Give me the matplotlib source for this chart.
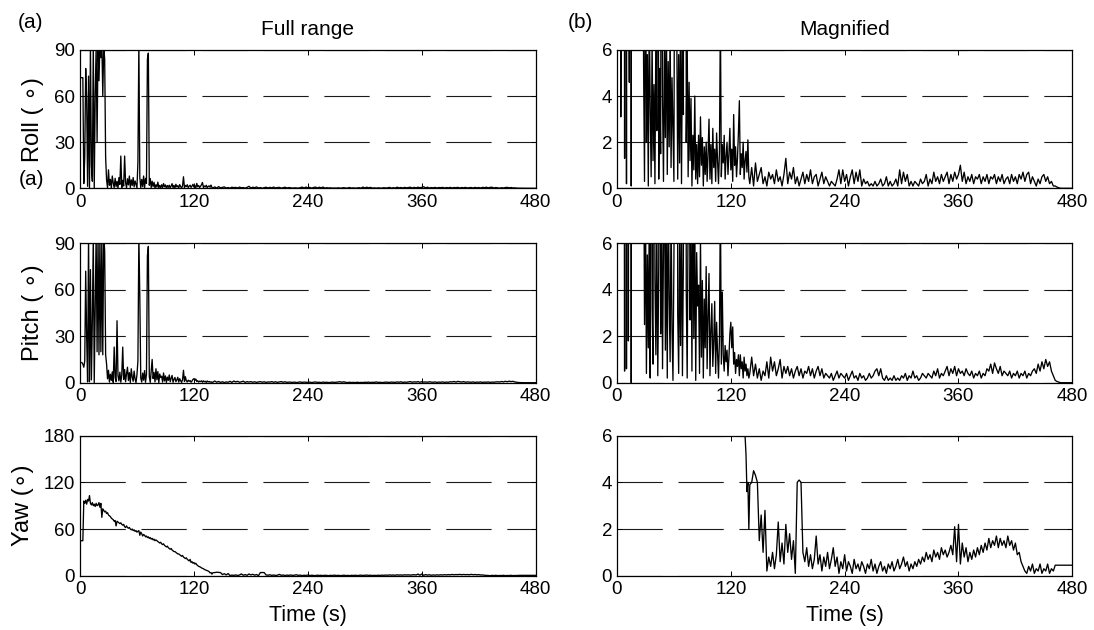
import numpy as np
import matplotlib
matplotlib.use("Agg")
import matplotlib.pyplot as plt

plt.rcParams["font.family"] = ["Liberation Sans", "DejaVu Sans"]
plt.rcParams["lines.scale_dashes"] = False

# Attitude error samples: 1 s steps for 0-139 s, 2 s steps for 140-480 s
roll_early = [72, 72, 72, 72, 3.1, 20, 78, 58, 1.3, 73,
              0.2, 95, 15, 4.6, 95, 0.1, 60, 92, 30, 95,
              70, 95, 85, 95, 60, 92, 84, 20, 5.5, 0.3,
              12, 2, 5.8, 0.1, 8, 3.5, 0.5, 6.5, 1.2, 4.5,
              0.2, 7, 2.5, 21, 0.4, 5.2, 1.5, 21, 3.8, 0.3,
              6.2, 2.2, 8, 0.6, 5.5, 1.8, 7, 0.9, 4.8, 2.6,
              0.3, 17, 95, 7, 0.4, 5.8, 1.1, 8, 0.2, 6.5,
              3.2, 84, 88, 2, 6.4, 0.5, 4.6, 1.2, 3.9, 0.1,
              2.3, 0.8, 4.0, 0.4, 1.9, 0.2, 2.3, 0.5, 3.1, 1.0,
              2.2, 0.1, 1.8, 0.6, 2.0, 0.3, 1.5, 3.0, 0.4, 1.9,
              0.2, 2.6, 0.9, 1.7, 0.3, 2.4, 1.2, 0.2, 1.6, 7.5,
              0.5, 1.9, 1.1, 2.3, 0.4, 1.4, 2.0, 0.6, 1.5, 2.6,
              0.8, 1.7, 0.3, 3.2, 1.0, 1.8, 0.5, 1.3, 2.4, 3.8,
              0.6, 1.5, 0.9, 2.0, 0.4, 1.2, 1.6, 0.7, 2.1, 0.5]
roll_late = [0.2, 0.9, 0.1, 1.1, 0.3, 0.6, 0.9, 0.2, 0.5, 0.1, 0.7, 0.4, 0.6, 0.2, 0.8, 0.3, 0.5, 0.1, 0.6, 1.3,
             0.2, 0.7, 0.4, 0.9, 0.2, 0.5, 0.1, 0.4, 0.7, 0.2, 0.6, 0.3, 0.8, 0.2, 0.5, 0.6, 0.1, 0.4, 0.7, 0.2,
             0.5, 0.3, 0.1, 0.3, 0.2, 0.1, 0.4, 0.8, 0.2, 0.8, 0.3, 0.6, 0.1, 0.5, 0.8, 0.2, 0.7, 0.3, 0.8, 0.1,
             0.4, 0.2, 0.3, 0.1, 0.2, 0.1, 0.3, 0.1, 0.2, 0.4, 0.1, 0.2, 0.5, 0.1, 0.3, 0.1, 0.2, 0.4, 0.1, 0.8,
             0.2, 0.7, 0.3, 0.6, 0.1, 0.3, 0.1, 0.3, 0.2, 0.1, 0.4, 0.2, 0.3, 0.6, 0.1, 0.4, 0.2, 0.7, 0.3, 0.5,
             0.2, 0.6, 0.3, 0.5, 0.7, 0.2, 0.6, 0.3, 0.7, 0.4, 0.6, 1.0, 0.3, 0.7, 0.2, 0.5, 0.3, 0.6, 0.2, 0.5,
             0.4, 0.6, 0.2, 0.5, 0.3, 0.6, 0.2, 0.5, 0.4, 0.6, 0.2, 0.5, 0.3, 0.6, 0.2, 0.4, 0.5, 0.2, 0.6, 0.3,
             0.5, 0.2, 0.6, 0.4, 0.7, 0.3, 0.6, 0.7, 0.2, 0.5, 0.3, 0.1, 0.4, 0.2, 0.5, 0.6, 0.3, 0.5, 0.2, 0.3,
             0.1, 0.1, 0.05, 0.02, 0, 0, 0, 0, 0, 0, 0]

pitch_early = [13, 13, 13, 12, 10, 14, 72, 30, 0.5, 95,
               0.6, 73, 1.8, 40, 95, 0, 50, 95, 20, 95,
               18, 95, 20, 95, 18, 95, 85, 18, 12, 2.5,
               8, 0.4, 5.5, 1.5, 7, 0.2, 23, 3.2, 0.8, 40,
               4.5, 1.2, 6.8, 0.3, 5, 23, 2.1, 8.5, 0.6, 5.8,
               10, 1.4, 6.5, 0.2, 9, 3.7, 0.9, 7.5, 2.3, 0.1,
               5.2, 14, 95, 55, 3, 0.4, 6.2, 1.6, 7.8, 0.3,
               5.4, 82, 88, 4, 0.2, 8, 15, 2.7, 6.6, 0.5,
               9, 1.9, 7.2, 0.1, 5.6, 3.3, 4.2, 0.4, 6.3, 1.1,
               4.4, 0.2, 3.6, 1.5, 5.0, 0.6, 2.9, 4.7, 0.3, 2.2,
               3.4, 0.7, 1.8, 3.5, 0.4, 2.6, 1.3, 0.2, 1.9, 8,
               0.8, 3.9, 1.2, 0.5, 1.6, 0.9, 1.4, 0.3, 1.1, 2.1,
               2.6, 1.5, 2.4, 0.8, 1.3, 0.4, 1.0, 0.7, 1.2, 0.3,
               1.2, 0.6, 0.9, 0.2, 1.1, 0.5, 0.8, 0.3, 0.6, 0.2]
pitch_late = [0.4, 1.1, 0.3, 0.8, 0.2, 0.6, 0.1, 0.5, 0.3, 0.9, 0.2, 1.1, 0.5, 0.9, 0.3, 0.6, 1.0, 0.2, 0.7, 0.4,
              0.7, 0.3, 0.6, 0.2, 0.5, 0.7, 0.3, 0.6, 0.2, 0.5, 0.4, 0.7, 0.3, 0.6, 0.2, 0.5, 0.7, 0.3, 0.6, 0.2,
              0.4, 0.3, 0.2, 0.4, 0.1, 0.3, 0.5, 0.2, 0.4, 0.3, 0.2, 0.4, 0.1, 0.3, 0.5, 0.2, 0.3, 0.1, 0.4, 0.2,
              0.3, 0.1, 0.2, 0.4, 0.2, 0.3, 0.5, 0.6, 0.3, 0.6, 0.2, 0.1, 0.3, 0.1, 0.2, 0.1, 0.3, 0.1, 0.2, 0.1,
              0.3, 0.2, 0.4, 0.1, 0.3, 0.2, 0.5, 0.2, 0.3, 0.1, 0.2, 0.4, 0.3, 0.2, 0.4, 0.3, 0.2, 0.5, 0.3, 0.6,
              0.2, 0.4, 0.3, 0.5, 0.7, 0.3, 0.6, 0.4, 0.7, 0.3, 0.6, 0.4, 0.5, 0.3, 0.6, 0.4, 0.3, 0.5, 0.2, 0.4,
              0.3, 0.5, 0.2, 0.4, 0.3, 0.6, 0.5, 0.8, 0.4, 0.85, 0.6, 0.4, 0.7, 0.3, 0.5, 0.4, 0.3, 0.5, 0.2, 0.4,
              0.3, 0.5, 0.2, 0.4, 0.3, 0.5, 0.2, 0.4, 0.3, 0.5, 0.6, 0.4, 0.8, 0.5, 0.9, 0.6, 1.0, 0.7, 0.9, 0.5,
              0.3, 0.1, 0.05, 0.02, 0, 0, 0, 0, 0, 0, 0]

yaw_early = [45, 45, 45, 45, 96, 93, 97, 92, 98, 96,
             103, 93, 91, 94, 90, 92, 89, 93, 90, 91,
             94, 88, 93, 75, 86, 84, 82, 83, 80, 81,
             78, 77, 76, 74, 73, 72, 70, 71, 64, 70,
             69, 68, 67, 68, 66, 65, 66, 63, 62, 64,
             62, 61, 62, 60, 59, 60, 58, 59, 57, 58,
             56, 57, 58, 52, 56, 54, 51, 53, 52, 50,
             51, 49, 50, 48, 49, 47, 48, 46, 47, 45,
             46, 45, 44, 43, 42, 43, 41, 40, 41, 39,
             38, 37, 38, 36, 35, 34, 35, 33, 32, 31,
             31, 30, 29, 28, 28, 27, 26, 25, 26, 24,
             23, 22, 23, 21, 20, 19, 21, 17, 18, 16,
             17, 15, 16, 14, 13, 12, 11.5, 11, 10, 9.5,
             9, 8, 7.5, 7, 6.5, 6.0, 5.2, 3.6, 4.0, 2.0]
yaw_late = [3.9, 4.0, 4.5, 4.3, 4.0, 1.5, 2.6, 1.0, 2.8, 0.2, 0.8, 0.4, 1.0, 0.3, 0.9, 2.3, 0.6, 1.4, 0.5, 2.2,
            1.0, 1.8, 0.7, 1.5, 0.1, 4.0, 4.1, 4.0, 1.0, 0.6, 1.2, 0.4, 0.9, 0.3, 0.7, 1.7, 0.5, 0.9, 0.2, 0.8,
            0.4, 1.0, 0.3, 0.7, 1.2, 0.4, 0.8, 0.1, 0.6, 0.3, 0.9, 0.2, 0.6, 0.4, 0.1, 0.7, 0.3, 0.5, 0.2, 0.6,
            0.4, 0.1, 0.5, 0.3, 0.7, 0.2, 0.5, 0.1, 0.4, 0.6, 0.2, 0.4, 0.1, 0.5, 0.3, 0.6, 0.2, 0.4, 0.7, 0.3,
            0.5, 0.8, 0.4, 0.6, 0.2, 0.5, 0.3, 0.6, 0.4, 0.7, 0.5, 0.8, 0.6, 1.0, 0.7, 0.9, 0.6, 1.1, 0.8, 1.0,
            0.7, 1.2, 0.9, 1.1, 0.8, 1.0, 1.3, 0.9, 2.1, 0.6, 2.2, 0.5, 1.4, 0.8, 1.2, 0.6, 1.0, 0.7, 1.1, 0.8,
            1.2, 0.9, 1.3, 1.0, 1.4, 1.1, 1.6, 1.2, 1.5, 1.3, 1.7, 1.2, 1.6, 1.3, 1.5, 1.2, 1.7, 1.3, 1.5, 1.1,
            1.4, 0.9, 1.0, 0.6, 0.4, 0.2, 0.1, 0.4, 0.2, 0.5, 0.1, 0.3, 0.2, 0.5, 0.1, 0.3, 0.2, 0.5, 0.1, 0.3,
            0.2, 0.45, 0.45, 0.45, 0.45, 0.45, 0.45, 0.45, 0.45, 0.45, 0.45]

row_labels = ["Roll ( \u2218)", "Pitch ( \u2218)", "Yaw (\u2218)"]
full_yticks = [[0, 30, 60, 90], [0, 30, 60, 90], [0, 60, 120, 180]]
mag_yticks = [0, 2, 4, 6]
time_ticks = [0, 120, 240, 360, 480]
column_titles = ["Full range", "Magnified"]
panel_tags = ["(a)", "(b)"]


def series(early, late):
    t = np.concatenate([np.arange(len(early), dtype=float),
                        140.0 + 2.0 * np.arange(len(late))])
    return t, np.array(early + late, dtype=float)


signals = [series(roll_early, roll_late),
           series(pitch_early, pitch_late),
           series(yaw_early, yaw_late)]

W, H = 1094, 630
fig = plt.figure(figsize=(W / 100, H / 100), dpi=100)

col_x = [(80, 535.7), (617, 1072.3)]
row_y = [(50, 188.3), (243.3, 382.7), (435.7, 575.7)]

grid_style = (0, (32.6, 11.3))

for r in range(3):
    t, v = signals[r]
    for c in range(2):
        x0, x1 = col_x[c]
        y0, y1 = row_y[r]
        ax = fig.add_axes([x0 / W, 1 - y1 / H, (x1 - x0) / W, (y1 - y0) / H])
        ax.plot(t, v, color="black", lw=0.95)
        yt = full_yticks[r] if c == 0 else mag_yticks
        ax.set_xlim(0, 480)
        ax.set_ylim(yt[0], yt[-1])
        ax.set_xticks(time_ticks)
        ax.set_yticks(yt)
        ax.yaxis.grid(True, linestyle=grid_style, color="0.1", lw=0.8)
        ax.tick_params(direction="in", top=True, right=True, length=3.5,
                       width=0.7, labelsize=13.5)
        ax.tick_params(axis="y", pad=3.5)
        ax.tick_params(axis="x", pad=4)
        for s in ax.spines.values():
            s.set_linewidth(0.9)
        cx = (x0 + x1) / 2
        if r == 0:
            fig.text(cx / W, 1 - 35 / H, column_titles[c], ha="center",
                     va="baseline", fontsize=15)
        if r == 2:
            fig.text(cx / W, 1 - 616 / H, "Time (s)", ha="center",
                     va="center", fontsize=15.5)
        if c == 0:
            lx = 33 if r < 2 else 23
            fig.text(lx / W, 1 - (y0 + y1) / 2 / H, row_labels[r],
                     rotation=90, ha="center", va="center", fontsize=17)

fig.text(17.4 / W, 1 - 27.7 / H, panel_tags[0], ha="left", va="baseline", fontsize=15)
fig.text(567.4 / W, 1 - 27.7 / H, panel_tags[1], ha="left", va="baseline", fontsize=15)
fig.text(18.3 / W, 1 - 185 / H, panel_tags[0], ha="left", va="baseline", fontsize=15)

fig.savefig("out.png", dpi=100)
